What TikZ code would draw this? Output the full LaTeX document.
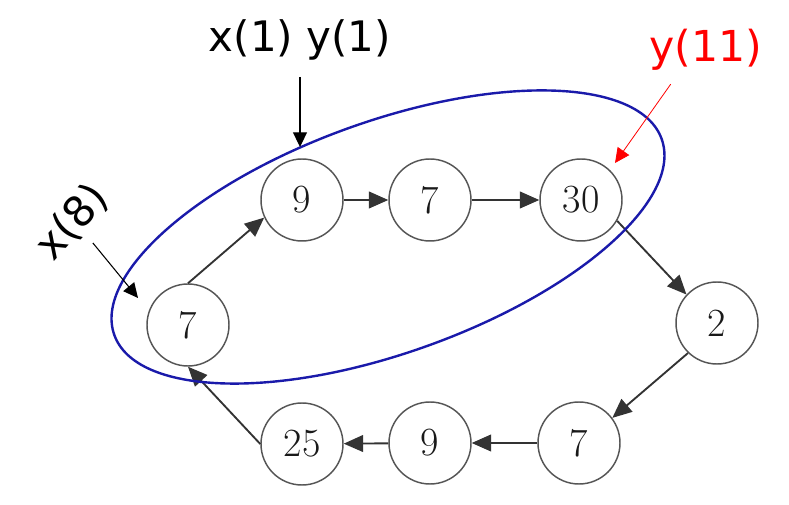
\documentclass[tikz,border=0pt]{standalone}
\usepackage{fontspec}
\usetikzlibrary{arrows.meta, positioning, calc}
\newfontfamily\labelfont{DejaVu Sans}
\definecolor{RingBlue}{HTML}{1A1AAA}
\definecolor{NodeGray}{HTML}{555555}
\definecolor{MarkRed}{HTML}{FF0000}

\begin{document}
\begin{tikzpicture}[
    % 像素坐标 (y 轴向下)
    x=0.75pt, y=-0.75pt,
    % 样式定义
    num/.style={
        circle,
        draw=NodeGray,
        line width=1.1pt,
        minimum size=61.5pt, % 圆圈直径
        inner sep=0pt,
        text=black!90,
        font=\fontsize{30}{31}\selectfont
    },
    link/.style={-{Triangle[length=14.5pt,width=12.5pt]}, line width=1.4pt, black!80},
    tag/.style={font=\labelfont\fontsize{31.5}{34}\selectfont, inner sep=0pt},
    pointer/.style={-{Triangle[length=11pt,width=10.5pt]}, line width=0.8pt}
]
    \useasboundingbox (0,0) rectangle (789,505);

    % ====== 1. 环上的八个结点 ======
    \node[num] (A) at (188,325) {7};
    \node[num] (B) at (302,200) {9};
    \node[num] (C) at (430,200) {7};
    \node[num] (D) at (581,200) {30};
    \node[num] (E) at (717,323) {2};
    \node[num] (F) at (579,443) {7};
    \node[num] (G) at (430,443) {9};
    \node[num] (H) at (302,444) {25};

    % 连接箭头 (顺时针)
    \draw[link] (A.north) -- (B.205);
    \draw[link] (B) -- (C);
    \draw[link] (C) -- (D);
    \draw[link] (D.-30) -- (E.137);
    \draw[link] (E.226) -- (F.37);
    \draw[link] (F) -- (G);
    \draw[link] (G) -- (H);
    \draw[link] (H.west) -- (A.south);

    % ====== 2. 蓝色椭圆 (圈出 7 9 7 30) ======
    \coordinate (ringc) at (388,237);
    \draw[RingBlue, line width=1.8pt, rotate around={19.7:(ringc)}]
        (ringc) ellipse [x radius=290.7, y radius=115.8];

    % ====== 3. 标注 ======
    \node[tag, anchor=base] (xy1) at (300,52) {x(1) y(1)};
    \coordinate (xy1tip) at (300,147);
    \draw[pointer, shorten <=12pt] (xy1.south) -- (xy1tip);

    \node[tag, anchor=base, text=MarkRed, font=\labelfont\fontsize{32}{34}\selectfont] (y11) at (706,62) {y(11)};
    \coordinate (y11tip) at (615,163);
    \draw[pointer, MarkRed, line width=0.6pt, shorten <=12pt]
        ($(y11.south west)!0.27!(y11.south east)$) -- (y11tip);

    \node[tag, rotate=48] (x8) at (72,222) {x(8)};
    \coordinate (x8tip) at (138,298);
    \draw[pointer, shorten <=8pt] (x8.south) -- (x8tip);

\end{tikzpicture}
\end{document}
